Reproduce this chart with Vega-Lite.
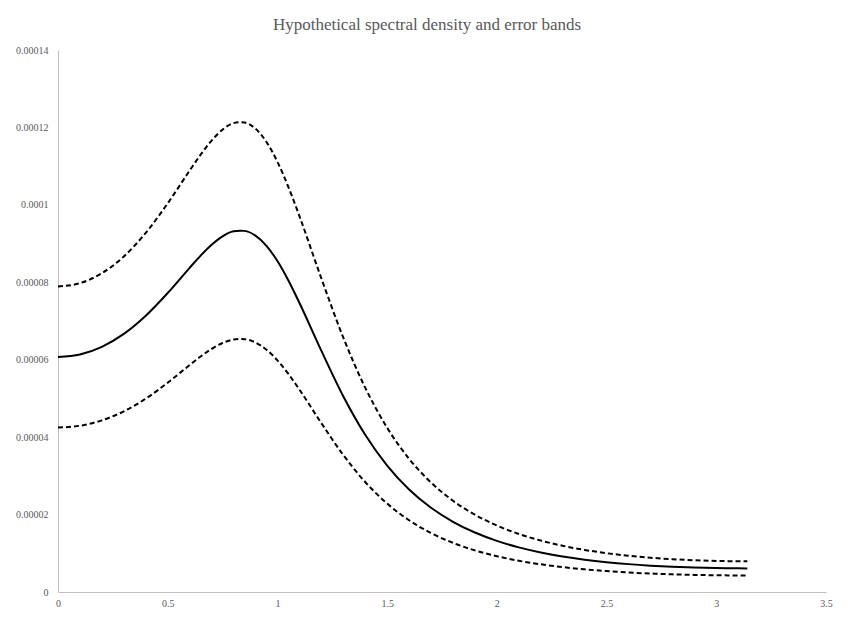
{
  "$schema": "https://vega.github.io/schema/vega-lite/v6.json",
  "autosize": "none",
  "width": 768,
  "height": 542,
  "padding": {"left": 58, "top": 50, "right": 22, "bottom": 27},
  "background": "white",
  "config": {"view": {"stroke": null}},
  "title": {
    "text": "Hypothetical spectral density and error bands",
    "font": "Liberation Serif",
    "fontSize": 17,
    "fontWeight": "normal",
    "color": "#595959",
    "anchor": "middle",
    "dx": -15,
    "offset": 11
  },
  "data": {
    "values": [
      {"w": 0, "mid": 6.070e-5, "up": 7.891e-5, "lo": 4.249e-5},
      {"w": 0.1, "mid": 6.136e-5, "up": 7.977e-5, "lo": 4.295e-5},
      {"w": 0.2, "mid": 6.334e-5, "up": 8.234e-5, "lo": 4.434e-5},
      {"w": 0.3, "mid": 6.667e-5, "up": 8.667e-5, "lo": 4.667e-5},
      {"w": 0.4, "mid": 7.136e-5, "up": 9.277e-5, "lo": 4.995e-5},
      {"w": 0.5, "mid": 7.723e-5, "up": 10.040e-5, "lo": 5.406e-5},
      {"w": 0.6, "mid": 8.374e-5, "up": 10.886e-5, "lo": 5.862e-5},
      {"w": 0.65, "mid": 8.689e-5, "up": 11.296e-5, "lo": 6.082e-5},
      {"w": 0.7, "mid": 8.970e-5, "up": 11.661e-5, "lo": 6.279e-5},
      {"w": 0.75, "mid": 9.188e-5, "up": 11.944e-5, "lo": 6.432e-5},
      {"w": 0.8, "mid": 9.316e-5, "up": 12.111e-5, "lo": 6.521e-5},
      {"w": 0.83, "mid": 9.333e-5, "up": 12.133e-5, "lo": 6.533e-5},
      {"w": 0.85, "mid": 9.328e-5, "up": 12.126e-5, "lo": 6.530e-5},
      {"w": 0.9, "mid": 9.205e-5, "up": 11.967e-5, "lo": 6.444e-5},
      {"w": 0.95, "mid": 8.942e-5, "up": 11.625e-5, "lo": 6.259e-5},
      {"w": 1.0, "mid": 8.548e-5, "up": 11.112e-5, "lo": 5.984e-5},
      {"w": 1.05, "mid": 8.047e-5, "up": 10.461e-5, "lo": 5.633e-5},
      {"w": 1.1, "mid": 7.472e-5, "up": 9.714e-5, "lo": 5.230e-5},
      {"w": 1.2, "mid": 6.233e-5, "up": 8.103e-5, "lo": 4.363e-5},
      {"w": 1.3, "mid": 5.057e-5, "up": 6.574e-5, "lo": 3.540e-5},
      {"w": 1.4, "mid": 4.060e-5, "up": 5.278e-5, "lo": 2.842e-5},
      {"w": 1.5, "mid": 3.264e-5, "up": 4.243e-5, "lo": 2.285e-5},
      {"w": 1.6, "mid": 2.647e-5, "up": 3.441e-5, "lo": 1.853e-5},
      {"w": 1.7, "mid": 2.175e-5, "up": 2.828e-5, "lo": 1.523e-5},
      {"w": 1.8, "mid": 1.814e-5, "up": 2.358e-5, "lo": 1.270e-5},
      {"w": 1.9, "mid": 1.536e-5, "up": 1.997e-5, "lo": 1.075e-5},
      {"w": 2.0, "mid": 1.321e-5, "up": 1.717e-5, "lo": 0.925e-5},
      {"w": 2.1, "mid": 1.153e-5, "up": 1.499e-5, "lo": 0.807e-5},
      {"w": 2.2, "mid": 1.022e-5, "up": 1.329e-5, "lo": 0.715e-5},
      {"w": 2.3, "mid": 0.918e-5, "up": 1.193e-5, "lo": 0.643e-5},
      {"w": 2.4, "mid": 0.836e-5, "up": 1.087e-5, "lo": 0.585e-5},
      {"w": 2.5, "mid": 0.771e-5, "up": 1.002e-5, "lo": 0.540e-5},
      {"w": 2.6, "mid": 0.720e-5, "up": 0.936e-5, "lo": 0.504e-5},
      {"w": 2.7, "mid": 0.681e-5, "up": 0.885e-5, "lo": 0.477e-5},
      {"w": 2.8, "mid": 0.652e-5, "up": 0.848e-5, "lo": 0.456e-5},
      {"w": 2.9, "mid": 0.631e-5, "up": 0.820e-5, "lo": 0.442e-5},
      {"w": 3.0, "mid": 0.617e-5, "up": 0.802e-5, "lo": 0.432e-5},
      {"w": 3.1, "mid": 0.611e-5, "up": 0.794e-5, "lo": 0.428e-5},
      {"w": 3.1416, "mid": 0.610e-5, "up": 0.793e-5, "lo": 0.427e-5}
    ]
  },
  "encoding": {
    "x": {
      "field": "w",
      "type": "quantitative",
      "scale": {"domain": [0, 3.5], "nice": false, "zero": true},
      "axis": {
        "title": null,
        "values": [0, 0.5, 1, 1.5, 2, 2.5, 3, 3.5],
        "format": ".1~f",
        "grid": false,
        "ticks": false,
        "domainColor": "#c0c0c0",
        "labelFont": "Liberation Serif",
        "labelFontSize": 10,
        "labelColor": "#595959",
        "labelPadding": 6,
        "labelFlush": false
      }
    }
  },
  "layer": [
    {
      "mark": {"type": "line", "interpolate": "monotone", "color": "black", "strokeWidth": 2, "strokeDash": [5, 3]},
      "encoding": {
        "y": {
          "field": "up",
          "type": "quantitative",
          "scale": {"domain": [0, 0.00014], "nice": false},
          "axis": {
            "title": null,
            "values": [0, 0.00002, 0.00004, 0.00006, 0.00008, 0.0001, 0.00012, 0.00014],
            "format": ".5~f",
            "grid": false,
            "ticks": false,
            "domainColor": "#c0c0c0",
            "labelFont": "Liberation Serif",
            "labelFontSize": 10,
            "labelColor": "#595959",
            "labelPadding": 10,
            "labelFlush": false
          }
        }
      }
    },
    {
      "mark": {"type": "line", "interpolate": "monotone", "color": "black", "strokeWidth": 2},
      "encoding": {"y": {"field": "mid", "type": "quantitative"}}
    },
    {
      "mark": {"type": "line", "interpolate": "monotone", "color": "black", "strokeWidth": 2, "strokeDash": [5, 3]},
      "encoding": {"y": {"field": "lo", "type": "quantitative"}}
    }
  ]
}
